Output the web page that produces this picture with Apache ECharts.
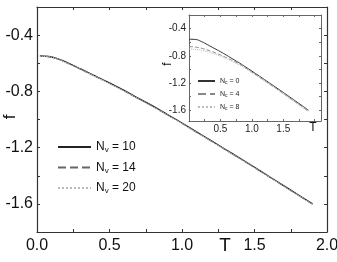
<!DOCTYPE html>
<html>
<head>
<meta charset="utf-8">
<script src="https://cdn.jsdelivr.net/npm/echarts@6/dist/echarts.min.js"></script>
<style>
  html, body { margin: 0; padding: 0; background: #fff; }
  #chart { width: 337px; height: 262px; }
</style>
</head>
<body>
<div id="chart"></div>
<script>
// main panel: f(T) for different N_v
const mainT = [0.02, 0.08, 0.15, 0.2, 0.3, 0.4, 0.5, 0.6, 0.7, 0.8, 0.9, 1.0, 1.1, 1.2, 1.3, 1.4, 1.5, 1.6, 1.7, 1.8, 1.9]
const fNv10 = [-0.548, -0.552, -0.570, -0.592, -0.640, -0.690, -0.740, -0.793, -0.850, -0.905, -0.965, -1.025, -1.088, -1.150, -1.213, -1.276, -1.340, -1.405, -1.470, -1.535, -1.600]
const fNv14 = [-0.549, -0.553, -0.572, -0.594, -0.642, -0.692, -0.743, -0.796, -0.852, -0.908, -0.967, -1.027, -1.090, -1.152, -1.215, -1.278, -1.342, -1.407, -1.472, -1.537, -1.602]
const fNv20 = [-0.550, -0.554, -0.573, -0.596, -0.644, -0.694, -0.745, -0.798, -0.854, -0.910, -0.969, -1.029, -1.092, -1.154, -1.217, -1.280, -1.344, -1.409, -1.474, -1.539, -1.604]
const mainNames = ['Nv10', 'Nv14', 'Nv20']
const mainLabels = ['10', '14', '20']

// inset: f(T) for different N_c
const insetT = [0.0, 0.1, 0.2, 0.3, 0.4, 0.5, 0.6, 0.7, 0.8, 0.9, 1.0, 1.2, 1.4, 1.6, 1.8, 1.9]
const fNc0 = [-0.556, -0.560, -0.592, -0.640, -0.690, -0.740, -0.793, -0.850, -0.905, -0.965, -1.025, -1.150, -1.276, -1.405, -1.535, -1.600]
const fNc4 = [-0.665, -0.672, -0.690, -0.718, -0.750, -0.788, -0.830, -0.874, -0.920, -0.978, -1.040, -1.165, -1.290, -1.420, -1.550, -1.615]
const fNc8 = [-0.700, -0.706, -0.720, -0.744, -0.772, -0.806, -0.845, -0.888, -0.935, -0.990, -1.050, -1.172, -1.297, -1.427, -1.558, -1.624]
const insetNames = ['Nc0', 'Nc4', 'Nc8']
const insetLabels = ['0', '4', '8']

const pairs = (xs, ys) => xs.map((x, i) => [x, ys[i]])

const frame = '#333'
const insetFrame = '#666'
const font = 'Liberation Sans, Arial, sans-serif'

const axisBase = (color, width, len) => ({
  axisLine: { show: true, onZero: false, lineStyle: { color: color, width: width } },
  axisTick: { show: true, inside: true, length: len, lineStyle: { color: color } },
  splitLine: { show: false }
})

const mainXLabel = v => (Math.round(v * 4) % 2 === 0 ? v.toFixed(1) : '')
const mainYLabel = v => (Math.round(v * 10) % 4 === 0 ? v.toFixed(1) : '')
const insetXLabel = v => {
  const k = Math.round(v * 4)
  return (k % 2 === 0 && k > 0 && k < 8) ? v.toFixed(1) : ''
}

const chart = echarts.init(document.getElementById('chart'), null, { renderer: 'canvas' })

const lineSeries = (name, data, xi, yi, type, color, width) => ({
  name: name,
  type: 'line',
  xAxisIndex: xi,
  yAxisIndex: yi,
  data: data,
  symbol: 'none',
  smooth: true,
  lineStyle: { type: type, color: color, width: width },
  itemStyle: { color: color },
  z: 3
})

const option = {
  backgroundColor: '#fff',
  animation: false,
  grid: [
    { left: 37, right: 10, top: 7, bottom: 30, outerBoundsMode: 'none' },
    { left: 189, right: 16, top: 15, bottom: 141, outerBoundsMode: 'none', show: true, backgroundColor: '#fff', borderWidth: 0 }
  ],
  xAxis: [
    {
      gridIndex: 0, type: 'value', min: 0, max: 2, interval: 0.25,
      ...axisBase(frame, 1.2, 3),
      axisLabel: { formatter: mainXLabel, color: '#111', fontSize: 16, fontFamily: font, margin: 6, showMaxLabel: true }
    },
    {
      gridIndex: 0, type: 'value', position: 'top', min: 0, max: 2, interval: 0.25,
      ...axisBase(frame, 1.2, 3),
      axisLabel: { show: false }
    },
    {
      gridIndex: 1, type: 'value', min: 0, max: 2.1, interval: 0.25,
      ...axisBase(insetFrame, 1, 2),
      axisLabel: { formatter: insetXLabel, color: '#222', fontSize: 10, fontFamily: font, margin: 3 }
    },
    {
      gridIndex: 1, type: 'value', position: 'top', min: 0, max: 2.1, interval: 0.25,
      ...axisBase(insetFrame, 1, 2),
      axisLabel: { show: false }
    }
  ],
  yAxis: [
    {
      gridIndex: 0, type: 'value', min: -1.8, max: -0.2, interval: 0.2,
      ...axisBase(frame, 1.2, 3),
      axisLabel: { formatter: mainYLabel, color: '#111', fontSize: 16, fontFamily: font, margin: 4 }
    },
    {
      gridIndex: 0, type: 'value', position: 'right', min: -1.8, max: -0.2, interval: 0.2,
      ...axisBase(frame, 1.2, 3),
      axisLabel: { show: false }
    },
    {
      gridIndex: 1, type: 'value', min: -1.76, max: -0.2, splitNumber: 8,
      ...axisBase(insetFrame, 1, 2),
      axisLabel: { formatter: mainYLabel, color: '#222', fontSize: 10, fontFamily: font, margin: 3 }
    },
    {
      gridIndex: 1, type: 'value', position: 'right', min: -1.76, max: -0.2, splitNumber: 8,
      ...axisBase(insetFrame, 1, 2),
      axisLabel: { show: false }
    }
  ],
  legend: [
    {
      data: mainNames,
      orient: 'vertical', left: 57, top: 140, padding: 0,
      itemWidth: 33, itemHeight: 10, itemGap: 6.5,
      itemStyle: { opacity: 0 },
      formatter: name => '{n|N}{s|v}{n| = ' + mainLabels[mainNames.indexOf(name)] + '}',
      textStyle: {
        rich: {
          n: { fontSize: 12, fontFamily: font, color: '#111', lineHeight: 14 },
          s: { fontSize: 8, fontFamily: font, color: '#111', lineHeight: 14, padding: [6, 0, 0, 0] }
        }
      }
    },
    {
      data: insetNames,
      orient: 'vertical', left: 197, top: 77, padding: 0,
      itemWidth: 17, itemHeight: 8, itemGap: 5,
      itemStyle: { opacity: 0 },
      formatter: name => '{n|N}{s|c}{n| = ' + insetLabels[insetNames.indexOf(name)] + '}',
      textStyle: {
        rich: {
          n: { fontSize: 7, fontFamily: font, color: '#222', lineHeight: 8 },
          s: { fontSize: 5, fontFamily: font, color: '#222', lineHeight: 8, padding: [3, 0, 0, 0] }
        }
      }
    }
  ],
  graphic: [
    { type: 'text', x: 225, y: 246, style: { text: 'T', fontSize: 19, fontFamily: font, fill: '#111', align: 'center', verticalAlign: 'middle' } },
    { type: 'text', x: 10, y: 117, rotation: Math.PI / 2, style: { text: 'f', fontSize: 17, fontFamily: font, fill: '#111', align: 'center', verticalAlign: 'middle' } },
    { type: 'text', x: 313, y: 128, z: 10, style: { text: 'T', fontSize: 12, fontFamily: font, fill: '#111', align: 'center', verticalAlign: 'middle' } },
    { type: 'text', x: 168, y: 64, z: 10, rotation: Math.PI / 2, style: { text: 'f', fontSize: 12, fontFamily: font, fill: '#111', align: 'center', verticalAlign: 'middle' } }
  ],
  series: [
    lineSeries(mainNames[0], pairs(mainT, fNv10), 0, 0, 'solid', '#222', 1.3),
    lineSeries(mainNames[1], pairs(mainT, fNv14), 0, 0, 'dashed', '#666', 1.1),
    lineSeries(mainNames[2], pairs(mainT, fNv20), 0, 0, 'dotted', '#bbb', 1.1),
    lineSeries(insetNames[0], pairs(insetT, fNc0), 2, 2, 'solid', '#333', 1),
    lineSeries(insetNames[1], pairs(insetT, fNc4), 2, 2, 'dashed', '#888', 1),
    lineSeries(insetNames[2], pairs(insetT, fNc8), 2, 2, 'dotted', '#bbb', 1)
  ]
}

chart.setOption(option)
</script>
</body>
</html>
